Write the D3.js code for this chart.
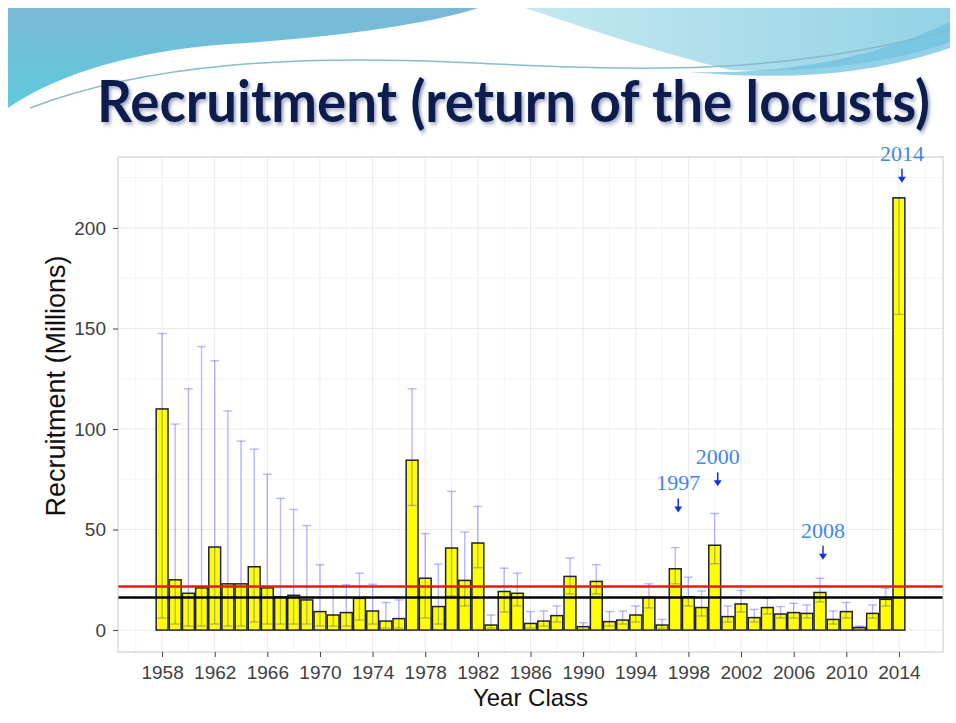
<!DOCTYPE html>
<html>
<head>
<meta charset="utf-8">
<script src="https://cdn.jsdelivr.net/npm/d3@7"></script>
<style>
  body { margin: 0; background: #ffffff; }
  svg { display: block; }
  .axis text { font-family: "Liberation Sans", Arial, sans-serif; font-size: 19px; fill: #404040; }
  .axis line { stroke: #404040; }
  .axis path { display: none; }
</style>
</head>
<body>
<div id="chart"></div>
<script>
// year classes on the x axis
const years = [1958, 1959, 1960, 1961, 1962, 1963, 1964, 1965, 1966, 1967,
    1968, 1969, 1970, 1971, 1972, 1973, 1974, 1975, 1976, 1977,
    1978, 1979, 1980, 1981, 1982, 1983, 1984, 1985, 1986, 1987,
    1988, 1989, 1990, 1991, 1992, 1993, 1994, 1995, 1996, 1997,
    1998, 1999, 2000, 2001, 2002, 2003, 2004, 2005, 2006, 2007,
    2008, 2009, 2010, 2011, 2012, 2013, 2014];

// recruitment estimate (millions)
const recruitment = [110, 25, 18.3, 21, 41.3, 23, 23, 31.5, 21, 16.5,
    17.3, 15, 9.2, 7.5, 8.7, 15.8, 9.5, 4.5, 5.7, 84.5,
    25.8, 11.7, 40.8, 24.7, 43.3, 2.5, 19.2, 18.3, 3.3, 4.5,
    7.2, 26.7, 1.7, 24.2, 4.2, 5, 7.5, 16.2, 2.5, 30.5,
    16.5, 11.2, 42.2, 6.7, 13, 6.2, 11.2, 8, 8.7, 8.3,
    18.7, 5.3, 9.2, 1.3, 8.3, 15.3, 215];

// lower / upper interval bounds (millions)
const lowerBound = [6, 3, 2, 2, 3, 2, 2, 4, 3, 3,
    3, 3, 2, 2, 2, 5, 3, 1, 1, 62,
    6, 3, 17, 12, 31, 1, 9, 12, 1, 2,
    4, 18, 0.5, 18, 2, 3, 4, 11, 1, 23,
    12, 7, 33, 4, 9, 4, 8, 6, 6, 6,
    14, 3, 6, 0.8, 6, 12, 157];

const upperBound = [147.5, 102.5, 120, 141, 134, 109, 94, 90, 77.5, 65.5,
    60, 52, 32.5, 22, 22.5, 28.3, 22.8, 13.7, 15, 120,
    48, 32.8, 69, 48.8, 61.5, 7.5, 30.8, 28.3, 9.2, 9.5,
    12, 35.8, 3.7, 32.5, 9.2, 9.5, 12, 23, 5.3, 41,
    26.3, 19.5, 58, 12, 19.7, 10.3, 15.8, 11.7, 13.3, 12.5,
    25.8, 9.5, 13.7, 2, 12.5, 20.8, 215];

// horizontal reference levels
const meanLevel = 21.7;
const medianLevel = 16.2;

const yTicks = [0, 50, 100, 150, 200];
const yMinorTicks = [25, 75, 125, 175, 225];
const xTicks = [1958, 1962, 1966, 1970, 1974, 1978, 1982, 1986, 1990, 1994, 1998, 2002, 2006, 2010, 2014];
const xMinorTicks = [1956, 1960, 1964, 1968, 1972, 1976, 1980, 1984, 1988, 1992, 1996, 2000, 2004, 2008, 2012, 2016];

// highlighted year classes and where their arrows point (millions)
const highlightYears = [1997, 2000, 2008, 2014];
const highlightTips = [58.5, 71.5, 35, 222.5];

class RecruitmentChart {

    constructor(_config) {
        this.config = {
            parentElement: _config.parentElement,
            containerWidth: 956,
            containerHeight: 723,
            margin: {top: 157, right: 13, bottom: 71, left: 118}
        };
        this.data = years.map((y, i) => ({
            year: y, value: recruitment[i], lo: lowerBound[i], hi: upperBound[i]
        }));
        this.initVis();
        this.renderVis();
    }

    initVis() {
        let vis = this;
        vis.width = vis.config.containerWidth - vis.config.margin.left - vis.config.margin.right;
        vis.height = vis.config.containerHeight - vis.config.margin.top - vis.config.margin.bottom;

        vis.svg = d3.select(vis.config.parentElement)
            .append('svg')
            .attr('width', vis.config.containerWidth)
            .attr('height', vis.config.containerHeight);

        vis.drawBanner();

        vis.chart = vis.svg.append('g')
            .attr('transform', `translate(${vis.config.margin.left},${vis.config.margin.top})`);

        vis.xScale = d3.scaleLinear()
            .domain([1954.65, 2017.35])
            .range([0, vis.width]);

        vis.yScale = d3.scaleLinear()
            .domain([-10.9, 235.3])
            .range([vis.height, 0]);

        vis.xAxis = d3.axisBottom(vis.xScale)
            .tickValues(xTicks)
            .tickFormat(d3.format('d'))
            .tickSize(5)
            .tickPadding(9);

        vis.yAxis = d3.axisLeft(vis.yScale)
            .tickValues(yTicks)
            .tickSize(5)
            .tickPadding(7);
    }

    drawBanner() {
        let vis = this;
        const defs = vis.svg.append('defs');

        const g1 = defs.append('linearGradient').attr('id', 'bannerLeft')
            .attr('x1', 0).attr('y1', 0).attr('x2', 0).attr('y2', 1);
        g1.append('stop').attr('offset', '0%').attr('stop-color', '#7ab8d8');
        g1.append('stop').attr('offset', '100%').attr('stop-color', '#5ecbdc');

        const g2 = defs.append('linearGradient').attr('id', 'bannerRight')
            .attr('x1', 0).attr('y1', 0).attr('x2', 1).attr('y2', 0);
        g2.append('stop').attr('offset', '0%').attr('stop-color', '#c4e9ef');
        g2.append('stop').attr('offset', '100%').attr('stop-color', '#93d2e6');

        const shadow = defs.append('filter').attr('id', 'soft')
            .attr('x', '-5%').attr('y', '-20%').attr('width', '110%').attr('height', '140%');
        shadow.append('feDropShadow')
            .attr('dx', 2).attr('dy', 2)
            .attr('stdDeviation', 1.8)
            .attr('flood-color', '#6f7fa8')
            .attr('flood-opacity', 0.7);

        vis.svg.append('path')
            .attr('d', 'M8,8 H478 C430,24 330,38 230,44 C140,50 60,72 8,108 Z')
            .attr('fill', 'url(#bannerLeft)');

        vis.svg.append('path')
            .attr('d', 'M525,8 H950 V42 C900,60 820,74 730,70 C650,50 585,28 525,8 Z')
            .attr('fill', 'url(#bannerRight)');

        vis.svg.append('path')
            .attr('d', 'M690,72 C800,74 880,55 950,22 V48 C880,72 800,82 690,72 Z')
            .attr('fill', '#6fc2e0')
            .attr('opacity', 0.75);

        vis.svg.append('path')
            .attr('d', 'M30,108 C150,62 300,56 450,62 S 760,82 950,30')
            .attr('fill', 'none')
            .attr('stroke', '#86bccb')
            .attr('stroke-width', 1.5);

        // slide title, stretched a little upward like the slide font
        vis.svg.append('text')
            .attr('transform', 'translate(97,122) scale(1,1.16)')
            .attr('textLength', 833)
            .attr('lengthAdjust', 'spacingAndGlyphs')
            .attr('font-family', 'Lato, "Open Sans", sans-serif')
            .attr('font-weight', 700)
            .attr('font-size', 50)
            .attr('fill', '#0c1c4e')
            .attr('filter', 'url(#soft)')
            .text('Recruitment (return of the locusts)');
    }

    renderVis() {
        let vis = this;
        const x = vis.xScale, y = vis.yScale;
        const barW = 0.9 * (x(1) - x(0));
        const capW = 0.68 * (x(1) - x(0));

        // grid
        vis.chart.selectAll('.grid-minor-y')
            .data(yMinorTicks)
            .enter().append('line')
            .attr('x1', 0).attr('x2', vis.width)
            .attr('y1', d => y(d)).attr('y2', d => y(d))
            .attr('stroke', '#f4f4f4');

        vis.chart.selectAll('.grid-minor-x')
            .data(xMinorTicks.filter(d => x(d) > 0 && x(d) < vis.width))
            .enter().append('line')
            .attr('y1', 0).attr('y2', vis.height)
            .attr('x1', d => x(d)).attr('x2', d => x(d))
            .attr('stroke', '#f4f4f4');

        vis.chart.selectAll('.grid-major-y')
            .data(yTicks)
            .enter().append('line')
            .attr('x1', 0).attr('x2', vis.width)
            .attr('y1', d => y(d)).attr('y2', d => y(d))
            .attr('stroke', '#ebebeb');

        vis.chart.selectAll('.grid-major-x')
            .data(xTicks)
            .enter().append('line')
            .attr('y1', 0).attr('y2', vis.height)
            .attr('x1', d => x(d)).attr('x2', d => x(d))
            .attr('stroke', '#ebebeb');

        // bars
        vis.chart.selectAll('.bar')
            .data(vis.data)
            .enter().append('rect')
            .attr('class', 'bar')
            .attr('x', d => x(d.year) - barW / 2)
            .attr('y', d => y(d.value))
            .attr('width', barW)
            .attr('height', d => y(0) - y(d.value))
            .attr('fill', '#ffff00')
            .attr('stroke', '#20203a')
            .attr('stroke-width', 1.5);

        // error bars, translucent blue
        const err = vis.chart.selectAll('.err')
            .data(vis.data)
            .enter().append('g')
            .attr('class', 'err')
            .attr('stroke', '#0000ff')
            .attr('stroke-opacity', 0.28)
            .attr('stroke-width', 1.4);

        err.append('line')
            .attr('x1', d => x(d.year)).attr('x2', d => x(d.year))
            .attr('y1', d => y(d.lo)).attr('y2', d => y(d.hi));
        err.append('line')
            .attr('x1', d => x(d.year) - capW / 2).attr('x2', d => x(d.year) + capW / 2)
            .attr('y1', d => y(d.hi)).attr('y2', d => y(d.hi));
        err.append('line')
            .attr('x1', d => x(d.year) - capW / 2).attr('x2', d => x(d.year) + capW / 2)
            .attr('y1', d => y(d.lo)).attr('y2', d => y(d.lo));

        // reference lines
        vis.chart.append('line')
            .attr('x1', 0).attr('x2', vis.width)
            .attr('y1', y(meanLevel)).attr('y2', y(meanLevel))
            .attr('stroke', '#ff1010').attr('stroke-width', 2.6);

        vis.chart.append('line')
            .attr('x1', 0).attr('x2', vis.width)
            .attr('y1', y(medianLevel)).attr('y2', y(medianLevel))
            .attr('stroke', '#000000').attr('stroke-width', 2.6);

        // panel border
        vis.chart.append('rect')
            .attr('width', vis.width).attr('height', vis.height)
            .attr('fill', 'none')
            .attr('stroke', '#c8c8c8');

        // annotations
        vis.chart.selectAll('.anno-label')
            .data(highlightYears)
            .enter().append('text')
            .attr('x', (d, i) => x(d) + 3)
            .attr('y', (d, i) => y(highlightTips[i]) - 22)
            .attr('text-anchor', 'middle')
            .attr('font-family', '"Liberation Serif", "DejaVu Serif", serif')
            .attr('font-size', 22)
            .attr('fill', '#3f86ea')
            .text(d => d);

        const arrows = vis.chart.selectAll('.anno-arrow')
            .data(highlightYears)
            .enter().append('g')
            .attr('fill', '#1533d6')
            .attr('stroke', '#1533d6');

        arrows.append('line')
            .attr('x1', d => x(d) + 3).attr('x2', d => x(d) + 3)
            .attr('y1', (d, i) => y(highlightTips[i]) - 14)
            .attr('y2', (d, i) => y(highlightTips[i]) - 4)
            .attr('stroke-width', 1.5);

        arrows.append('path')
            .attr('stroke', 'none')
            .attr('d', (d, i) => {
                const ax = x(d) + 3, ay = y(highlightTips[i]);
                return `M${ax - 4},${ay - 6} L${ax + 4},${ay - 6} L${ax},${ay} Z`;
            });

        // axes
        vis.chart.append('g')
            .attr('class', 'axis x-axis')
            .attr('transform', `translate(0,${vis.height})`)
            .call(vis.xAxis);

        vis.chart.append('g')
            .attr('class', 'axis y-axis')
            .call(vis.yAxis);

        // axis titles
        vis.svg.append('text')
            .attr('x', vis.config.margin.left + vis.width / 2)
            .attr('y', 706)
            .attr('text-anchor', 'middle')
            .attr('font-family', '"Liberation Sans", Arial, sans-serif')
            .attr('font-size', 24)
            .attr('fill', '#111')
            .text('Year Class');

        vis.svg.append('text')
            .attr('transform', 'translate(65,386) rotate(-90)')
            .attr('text-anchor', 'middle')
            .attr('font-family', '"Liberation Sans", Arial, sans-serif')
            .attr('font-size', 27)
            .attr('fill', '#111')
            .text('Recruitment (Millions)');
    }
}

new RecruitmentChart({parentElement: '#chart'});
</script>
</body>
</html>
